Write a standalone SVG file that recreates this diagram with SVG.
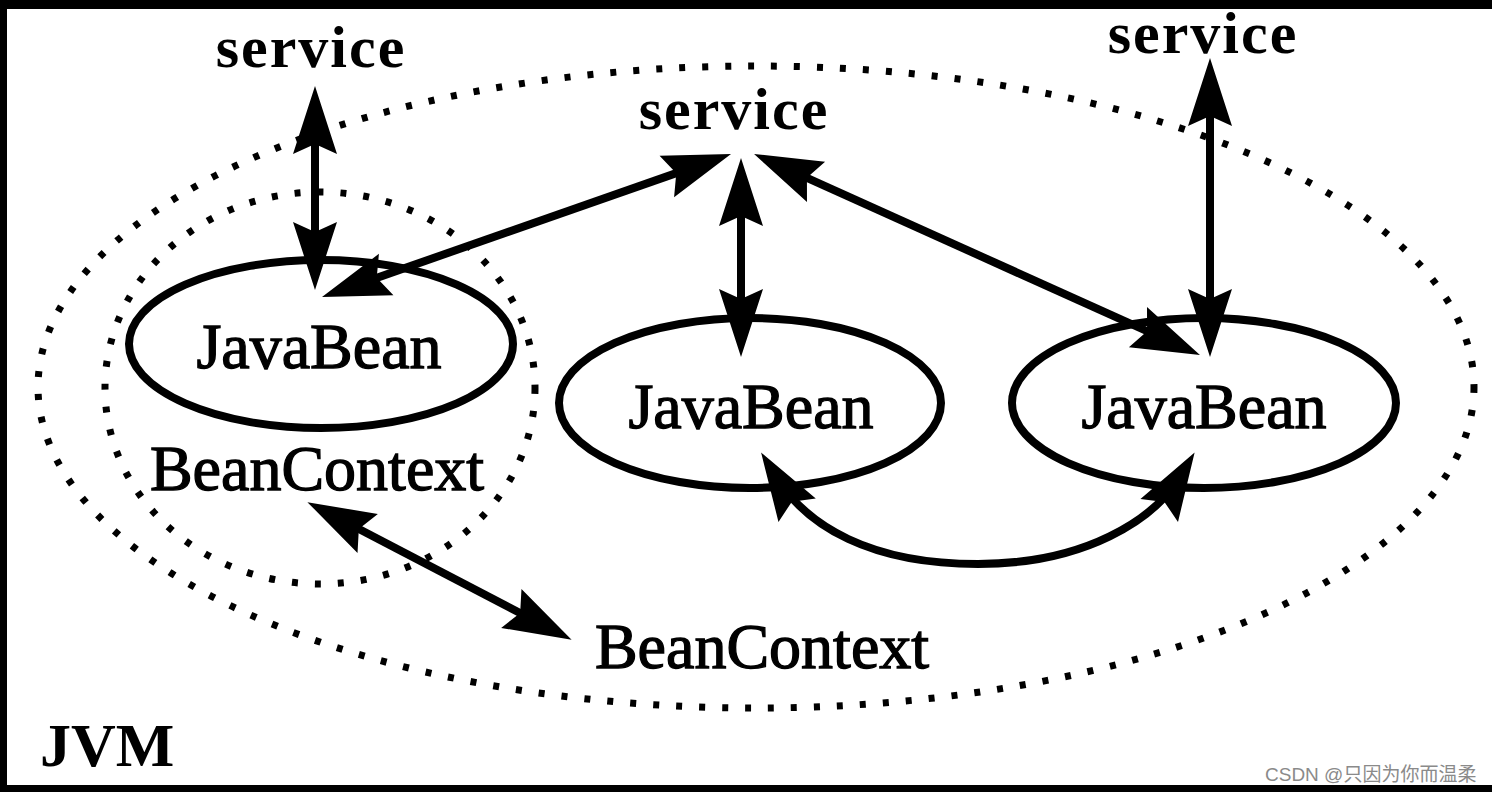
<svg xmlns="http://www.w3.org/2000/svg" width="1492" height="792" viewBox="0 0 1492 792">
  <style>
    .dotted { fill: none; stroke: #000; stroke-width: 7; stroke-dasharray: 6 17; }
    .bean { fill: none; stroke: #000; stroke-width: 8; }
    .conn { fill: none; stroke: #000; stroke-width: 8; marker-start: url(#head); marker-end: url(#head); }
    .lbl { font-family: "Liberation Serif", "Times New Roman", serif; font-size: 64px; fill: #000; stroke: #000; stroke-width: 1.3; text-anchor: middle; }
    .svc { font-family: "Liberation Serif", "Times New Roman", serif; font-size: 60px; font-weight: bold; fill: #000; text-anchor: middle; letter-spacing: 2px; }
    .jvm { font-family: "Liberation Serif", "Times New Roman", serif; font-size: 62px; font-weight: bold; fill: #000; }
    .wm { font-family: "Liberation Sans", "Noto Sans CJK SC", sans-serif; font-size: 19px; fill: #8a8a8a; }
  </style>
  <defs>
    <marker id="head" markerUnits="userSpaceOnUse" markerWidth="70" markerHeight="46" refX="38" refY="22" orient="auto-start-reverse" overflow="visible">
      <path d="M0,0 L68,22 L0,44 L10,22 z" fill="#000"/>
    </marker>
  </defs>

  <rect x="0" y="0" width="1492" height="792" fill="#fff"/>
  <!-- frame -->
  <rect x="0" y="0" width="1492" height="9" fill="#000"/>
  <rect x="0" y="0" width="7" height="792" fill="#000"/>
  <rect x="0" y="785" width="1492" height="7" fill="#000"/>

  <g id="jvm">
    <ellipse class="dotted" cx="756" cy="387" rx="718" ry="321"/>
    <text class="jvm" x="40" y="766">JVM</text>
  </g>

  <g id="beancontext-inner">
    <ellipse class="dotted" cx="320" cy="388" rx="215" ry="196"/>
    <text class="lbl" x="317" y="490">BeanContext</text>
  </g>

  <g id="beancontext-outer">
    <text class="lbl" x="762" y="668">BeanContext</text>
  </g>

  <g id="javabean1">
    <ellipse class="bean" cx="321" cy="344" rx="192" ry="84"/>
    <text class="lbl" x="319" y="368">JavaBean</text>
  </g>
  <g id="javabean2">
    <ellipse class="bean" cx="750" cy="403" rx="191" ry="85"/>
    <text class="lbl" x="751" y="428">JavaBean</text>
  </g>
  <g id="javabean3">
    <ellipse class="bean" cx="1204" cy="403" rx="192" ry="85"/>
    <text class="lbl" x="1204" y="428">JavaBean</text>
  </g>

  <g id="service1"><text class="svc" x="311" y="67">service</text></g>
  <g id="service2"><text class="svc" x="734" y="129">service</text></g>
  <g id="service3"><text class="svc" x="1203" y="53">service</text></g>

  <g id="connectors">
    <line class="conn" x1="315" y1="116" x2="315" y2="260"/>
    <line class="conn" x1="741" y1="188" x2="741" y2="327"/>
    <line class="conn" x1="1210" y1="88" x2="1210" y2="327"/>
    <line class="conn" x1="350.3" y1="287.1" x2="702.7" y2="163.9"/>
    <line class="conn" x1="781.4" y1="166.3" x2="1172.6" y2="342.7"/>
    <line class="conn" x1="334" y1="516" x2="545" y2="626"/>
    <path class="conn" d="M777,478 C807,526 870,564 978,564 C1086,564 1154,519 1179,478"/>
  </g>

  <text class="wm" x="1265" y="781">CSDN @只因为你而温柔</text>
</svg>
